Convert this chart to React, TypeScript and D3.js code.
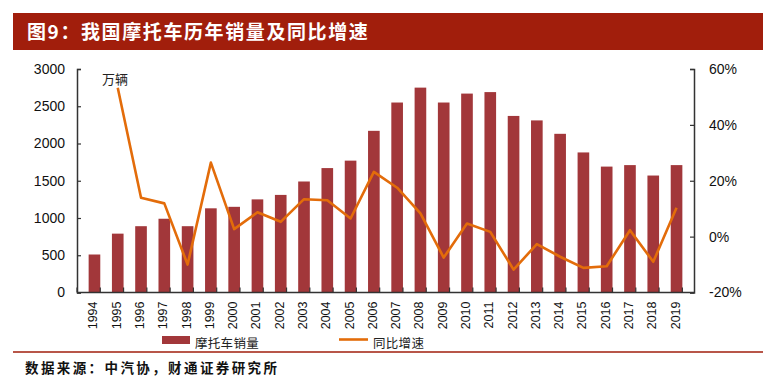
import { useEffect, useRef } from "react";
import * as d3 from "d3";

const years = ["1994","1995","1996","1997","1998","1999","2000","2001","2002","2003","2004","2005","2006","2007","2008","2009","2010","2011","2012","2013","2014","2015","2016","2017","2018","2019"];
const sales = [510, 790, 890, 990, 890, 1130, 1150, 1250, 1310, 1490, 1670, 1770, 2170, 2550, 2750, 2550, 2670, 2690, 2370, 2310, 2130, 1880, 1690, 1710, 1570, 1710];
// yoy growth in %, first year has no value
const growth = [null, 53.3, 13.9, 11.9, -10, 26.5, 2.7, 8.7, 5.3, 13.4, 13, 6.5, 23.2, 17.5, 8.3, -7.5, 4.7, 1.7, -11.8, -2.7, -7.2, -11.2, -10.6, 2.3, -9, 10.3];
const leftTicks = [0, 500, 1000, 1500, 2000, 2500, 3000];
const rightTicks = [-20, 0, 20, 40, 60];

const title = "图9：我国摩托车历年销量及同比增速";
const source = "数据来源：中汽协，财通证券研究所";
const unitLabel = "万辆";
const legendBar = "摩托车销量";
const legendLine = "同比增速";

export default function App() {
  const svgRef = useRef<SVGSVGElement | null>(null);

  useEffect(() => {
    const W = 777, H = 386;
    const margin = { top: 69, right: 83, bottom: 94, left: 77 };
    const svg = d3.select(svgRef.current);
    svg.selectAll("*").remove();
    svg.attr("width", W).attr("height", H);

    const barColor = "#A2373A";
    const lineColor = "#E36C0A";
    const axisColor = "#333";
    const cjk = "'Noto Sans CJK SC', sans-serif";
    const latin = "'Liberation Sans', Arial, sans-serif";

    // title bar
    svg.append("rect").attr("x", 13).attr("y", 13).attr("width", 750).attr("height", 37).attr("fill", "#A11E0C");
    svg.append("text").attr("x", 27).attr("y", 39).text(title)
      .attr("fill", "#fff").attr("font-family", cjk).attr("font-weight", 700)
      .attr("font-size", 19).attr("letter-spacing", 1.6);

    const x = d3.scaleBand().domain(years).range([margin.left, W - margin.right]).padding(0.5);
    const yL = d3.scaleLinear().domain([0, 3000]).range([H - margin.bottom + 0.5, margin.top]);
    const yR = d3.scaleLinear().domain([-20, 60]).range([H - margin.bottom + 0.5, margin.top]);

    // bars
    svg.append("g").selectAll("rect").data(sales).join("rect")
      .attr("x", (d, i) => x(years[i])!)
      .attr("y", d => yL(d))
      .attr("width", x.bandwidth())
      .attr("height", d => yL(0) - yL(d))
      .attr("fill", barColor);

    // growth line
    const pts = growth.map((g, i) => ({ year: years[i], g })).filter(d => d.g !== null) as { year: string; g: number }[];
    const line = d3.line<{ year: string; g: number }>()
      .x(d => x(d.year)! + x.bandwidth() / 2)
      .y(d => yR(d.g));
    svg.append("path").datum(pts).attr("fill", "none").attr("stroke", lineColor)
      .attr("stroke-width", 2.6).attr("stroke-linejoin", "round").attr("d", line);

    // left axis
    const gl = svg.append("g").attr("transform", `translate(${margin.left},0)`)
      .call(d3.axisLeft(yL).tickValues(leftTicks).tickSize(-4).tickPadding(12).tickFormat(d3.format("d")));
    // right axis
    const gr = svg.append("g").attr("transform", `translate(${W - margin.right},0)`)
      .call(d3.axisRight(yR).tickValues(rightTicks).tickSize(-4).tickPadding(15).tickFormat(d => `${d}%`));
    [gl, gr].forEach(g => {
      g.select(".domain").attr("stroke", axisColor).attr("stroke-width", 1.5);
      g.selectAll(".tick line").attr("stroke", axisColor).attr("stroke-width", 1.2);
      g.selectAll(".tick text").attr("fill", "#111").attr("font-family", latin).attr("font-size", 14);
    });

    // bottom axis
    const y0 = yL(0);
    const gb = svg.append("g");
    gb.append("line").attr("x1", margin.left).attr("x2", W - margin.right).attr("y1", y0).attr("y2", y0)
      .attr("stroke", axisColor).attr("stroke-width", 1.5);
    const bounds = d3.range(years.length + 1).map(i => margin.left + i * x.step());
    gb.selectAll("line.tk").data(bounds).join("line").attr("class", "tk")
      .attr("x1", d => d).attr("x2", d => d).attr("y1", y0).attr("y2", y0 - 5)
      .attr("stroke", axisColor).attr("stroke-width", 1.2);
    gb.selectAll("text").data(years).join("text")
      .attr("transform", d => `translate(${x(d)! + x.bandwidth() / 2 + 3},${y0 + 9}) rotate(-90)`)
      .attr("text-anchor", "end")
      .attr("font-family", latin).attr("font-size", 12.5).attr("fill", "#111")
      .text(d => d);

    // unit label
    svg.append("text").attr("x", 102).attr("y", 84).text(unitLabel)
      .attr("font-family", cjk).attr("font-size", 13).attr("fill", "#222");

    // legend
    svg.append("rect").attr("x", 162).attr("y", 336).attr("width", 28).attr("height", 8).attr("fill", barColor);
    svg.append("text").attr("x", 195).attr("y", 348).text(legendBar)
      .attr("font-family", cjk).attr("font-size", 12.5).attr("fill", "#222").attr("letter-spacing", 0.3);
    svg.append("line").attr("x1", 339).attr("x2", 368).attr("y1", 339.5).attr("y2", 339.5)
      .attr("stroke", lineColor).attr("stroke-width", 2.6);
    svg.append("text").attr("x", 373).attr("y", 348).text(legendLine)
      .attr("font-family", cjk).attr("font-size", 12.5).attr("fill", "#222").attr("letter-spacing", 0.3);

    // bottom rule + source
    svg.append("line").attr("x1", 13).attr("x2", 763).attr("y1", 352).attr("y2", 352)
      .attr("stroke", "#A11E0C").attr("stroke-width", 1.5);
    svg.append("text").attr("x", 25).attr("y", 373).text(source)
      .attr("font-family", cjk).attr("font-weight", 700).attr("font-size", 13.5)
      .attr("letter-spacing", 2.4).attr("fill", "#111");
  }, []);

  return (
    <div style={{ position: "absolute", left: 0, top: 0, width: 777, height: 386, background: "#fff" }}>
      <svg ref={svgRef}></svg>
    </div>
  );
}
